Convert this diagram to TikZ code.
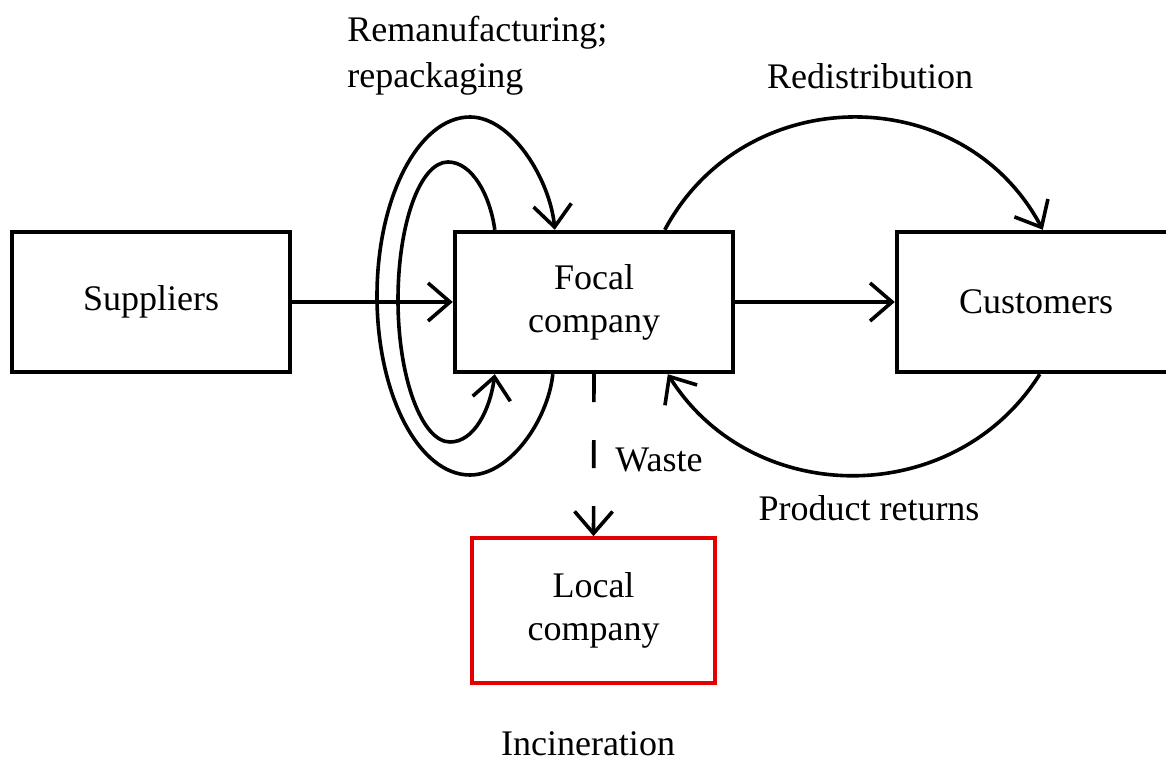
\documentclass[tikz,border=0pt]{standalone}
\usepackage{fontspec}
\setmainfont{Liberation Serif}
\usetikzlibrary{arrows.meta,calc}
\definecolor{boxred}{RGB}{228,0,0}

\begin{document}
\begin{tikzpicture}[x=0.5pt,y=-0.5pt,
  box/.style={draw, line width=2.2pt, minimum width=139pt, minimum height=70pt,
    inner sep=0pt, align=center, font=\fontsize{18}{21.5}\selectfont},
  flow/.style={line width=1.8pt, -{Straight Barb[length=11pt,width=19pt]}},
  lbl/.style={font=\fontsize{18}{23}\selectfont, inner sep=0pt}]

\useasboundingbox (0,0) rectangle (1166,763);

% boxes
\node[box] (suppliers) at (151,302) {Suppliers};
\node[box] (focal) at (594,302) {Focal\\company};
\node[box] (customers) at (1036,302) {Customers};
\node[box, draw=boxred, line width=1.8pt, minimum width=121.5pt, minimum height=72.5pt]
  (local) at (593.5,610.5) {Local\\company};

% labels
\node[lbl, align=left, anchor=west] (remanlbl) at (347,56) {Remanufacturing;\\repackaging};
\node[lbl] (redistlbl) at (870,76) {Redistribution};
\node[lbl] (wastelbl) at (659,460) {Waste};
\node[lbl] (returnslbl) at (869,508) {Product returns};
\node[lbl] (incinlbl) at (588,744) {Incineration};

% straight flows
\draw[flow] (suppliers.east) -- (focal.west);
\draw[flow] (focal.east) -- (customers.west);
\draw[flow, dash pattern=on 14pt off 19pt] (focal.south) -- (local.north);

% remanufacturing loop (outer)
\draw[flow] ($(focal.south west)+(100,0)$)
  .. controls (548,420) and (510,475) .. (470,475)
  .. controls (419,475) and (377,395) .. (377,296)
  .. controls (377,197) and (419,117) .. (470,117)
  .. controls (512,117) and (550,180) .. ($(focal.north west)+(102,0)$);

% repackaging loop (inner)
\draw[flow] ($(focal.north west)+(42,0)$)
  .. controls (490,195) and (472,162) .. (448,162)
  .. controls (420,162) and (398,224) .. (398,300)
  .. controls (398,378) and (422,442) .. (450,442)
  .. controls (474,442) and (490,410) .. ($(focal.south west)+(42,0)$);

% redistribution and product returns
\draw[flow] ($(focal.north west)+(212,0)$)
  .. controls (745,80) and (963,80) .. ($(customers.north west)+(148,0)$);
\draw[flow] ($(customers.south west)+(145,0)$)
  .. controls (955,509) and (753,509) .. ($(focal.south west)+(215,0)$);

\end{tikzpicture}
\end{document}
